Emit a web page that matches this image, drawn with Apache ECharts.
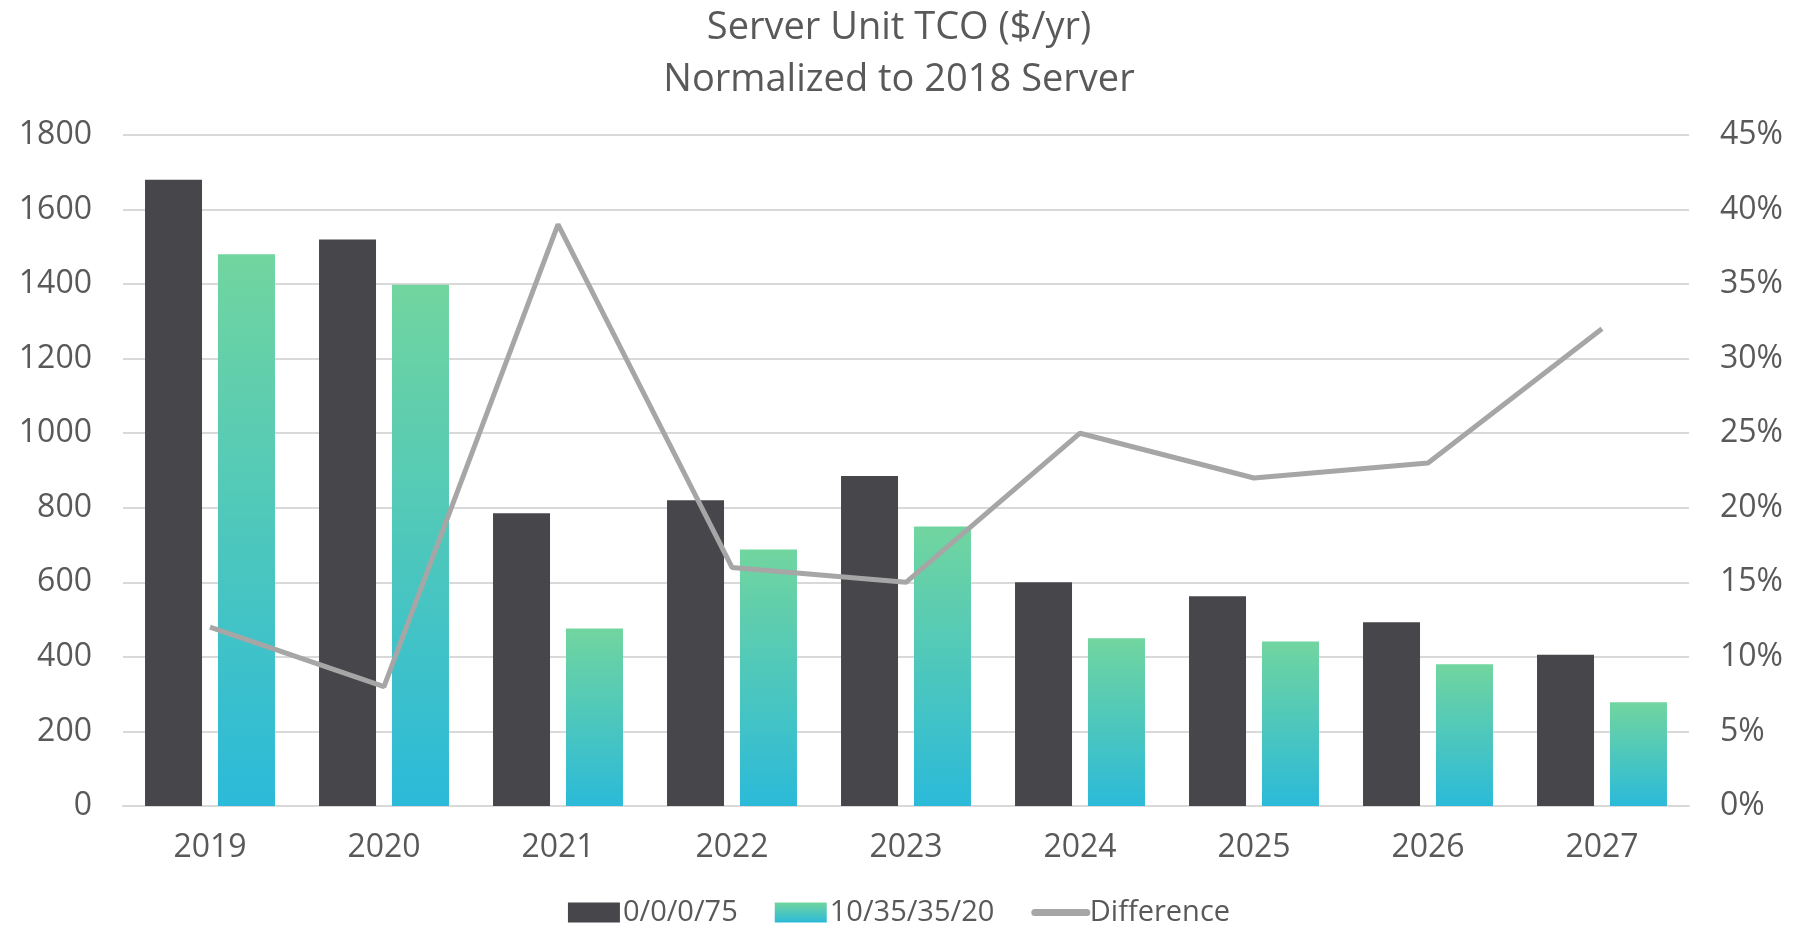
<!DOCTYPE html>
<html>
<head>
<meta charset="utf-8">
<title>Server Unit TCO</title>
<script src="https://cdn.jsdelivr.net/npm/echarts@6/dist/echarts.min.js"></script>
<style>
  html, body { margin: 0; padding: 0; background: #fff; }
  #main { width: 1798px; height: 926px; }
</style>
</head>
<body>
<div id="main"></div>
<script>
const years = ['2019', '2020', '2021', '2022', '2023', '2024', '2025', '2026', '2027'];
const baseline = [1680, 1520, 785, 820, 885, 600, 563, 493, 406];     // 0/0/0/75
const mixed = [1480, 1398, 476, 688, 750, 450, 441, 380, 278];        // 10/35/35/20
const difference = [12, 8, 39, 16, 15, 25, 22, 23, 32];              // percent

const font = 'Open Sans';
const textColor = '#595959';

const myChart = echarts.init(document.getElementById('main'));
const option = {
    animation: false,
    textStyle: { fontFamily: font },
    title: {
        text: 'Server Unit TCO ($/yr)\nNormalized to 2018 Server',
        left: 'center',
        top: -3,
        textStyle: {
            color: textColor,
            fontSize: 38,
            fontWeight: 'normal',
            lineHeight: 52,
            fontFamily: font
        }
    },
    legend: {
        top: 893,
        left: 'center',
        itemWidth: 52,
        itemHeight: 20,
        itemGap: 37,
        textStyle: { color: textColor, fontSize: 29, fontFamily: font, padding: [0, 0, 0, -2] },
        data: [
            { name: '0/0/0/75', icon: 'rect' },
            { name: '10/35/35/20', icon: 'rect' },
            { name: 'Difference', itemStyle: { opacity: 0 }, lineStyle: { width: 7, cap: 'round' } }
        ]
    },
    grid: {
        left: 123,
        right: 109,
        top: 135,
        bottom: 120
    },
    xAxis: {
        type: 'category',
        data: years,
        axisLine: { lineStyle: { color: '#d9d9d9', width: 2 } },
        axisTick: { show: false },
        axisLabel: { color: textColor, fontSize: 32, margin: 26, fontFamily: font }
    },
    yAxis: [{
        type: 'value',
        min: 0,
        max: 1800,
        interval: 200,
        axisLine: { show: false },
        axisTick: { show: false },
        splitLine: { lineStyle: { color: '#d9d9d9', width: 2 } },
        axisLabel: { color: textColor, fontSize: 32, margin: 31, fontFamily: font, formatter: (v) => String(v) }
    }, {
        type: 'value',
        min: 0,
        max: 45,
        interval: 5,
        axisLine: { show: false },
        axisTick: { show: false },
        splitLine: { show: false },
        axisLabel: { color: textColor, fontSize: 32, margin: 31, fontFamily: font, formatter: '{value}%' }
    }],
    series: [{
        name: '0/0/0/75',
        type: 'bar',
        data: baseline,
        barWidth: 57,
        barGap: '28%',
        itemStyle: { color: '#47464b' }
    }, {
        name: '10/35/35/20',
        type: 'bar',
        data: mixed,
        barWidth: 57,
        itemStyle: {
            color: new echarts.graphic.LinearGradient(0, 0, 0, 1, [
                { offset: 0, color: '#71d59f' },
                { offset: 1, color: '#2bbad9' }
            ])
        }
    }, {
        name: 'Difference',
        type: 'line',
        yAxisIndex: 1,
        data: difference,
        symbol: 'none',
        lineStyle: { color: '#a6a6a6', width: 5 },
        itemStyle: { color: '#a6a6a6' }
    }]
};
myChart.setOption(option);
</script>
</body>
</html>
